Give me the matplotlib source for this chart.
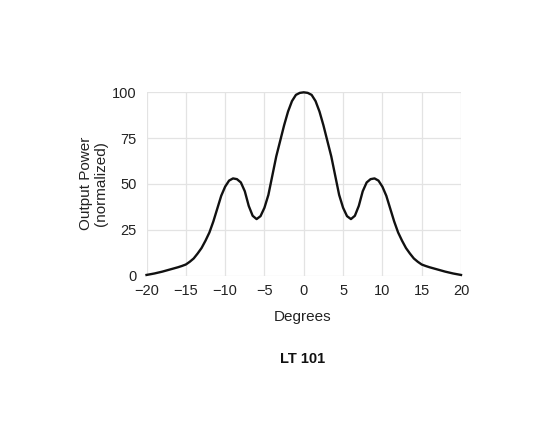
import matplotlib.pyplot as plt

plt.rcParams['font.family'] = ['Liberation Sans', 'DejaVu Sans']

# angle (degrees) and normalized output power
degrees = [-20, -19.5, -19, -18.5, -18, -17.5, -17, -16.5, -16, -15.5,
           -15, -14.5, -14, -13.5, -13, -12.5, -12, -11.5, -11, -10.5,
           -10, -9.5, -9, -8.5, -8, -7.5, -7, -6.5, -6, -5.5,
           -5, -4.5, -4, -3.5, -3, -2.5, -2, -1.5, -1, -0.5,
           0, 0.5, 1, 1.5, 2, 2.5, 3, 3.5, 4, 4.5,
           5, 5.5, 6, 6.5, 7, 7.5, 8, 8.5, 9, 9.5,
           10, 10.5, 11, 11.5, 12, 12.5, 13, 13.5, 14, 14.5,
           15, 15.5, 16, 16.5, 17, 17.5, 18, 18.5, 19, 19.5, 20]
power = [0.3, 0.7, 1.1, 1.6, 2.1, 2.7, 3.3, 3.9, 4.5, 5.2,
         6.0, 7.5, 9.3, 12.0, 15.0, 19.0, 23.5, 29.5, 36.5, 43.5,
         48.5, 51.8, 53.0, 52.6, 50.8, 46.0, 38.0, 32.6, 30.8, 32.4,
         37.0, 44.0, 54.5, 65.0, 73.5, 82.0, 89.5, 95.2, 98.6, 99.7,
         100, 99.7, 98.6, 95.2, 89.5, 82.0, 73.5, 65.0, 54.5, 44.0,
         37.0, 32.4, 30.8, 32.6, 38.0, 46.0, 50.8, 52.6, 53.0, 51.8,
         48.5, 43.5, 36.5, 29.5, 23.5, 19.0, 15.0, 12.0, 9.3, 7.5,
         6.0, 5.2, 4.5, 3.9, 3.3, 2.7, 2.1, 1.6, 1.1, 0.7, 0.3]

xticks = [-20, -15, -10, -5, 0, 5, 10, 15, 20]
yticks = [0, 25, 50, 75, 100]

fig = plt.figure(figsize=(5.5, 4.3), dpi=100)
ax = fig.add_axes([0.2664, 0.3593, 0.5718, 0.426])

ax.plot(degrees, power, color='#111111', lw=1.7, clip_on=False, zorder=3,
        solid_joinstyle='round')

ax.set_xlim(-20, 20)
ax.set_ylim(0, 100)
ax.set_xticks(xticks)
ax.set_yticks(yticks)
ax.grid(True, color='#e3e3e3', lw=0.9)
ax.set_axisbelow(True)
for s in ax.spines.values():
    s.set_visible(False)
ax.tick_params(length=0, labelsize=10.5, colors='#222222', pad=7)
ax.tick_params(axis='x', pad=6)

fig.text(0.170, 0.574, 'Output Power\n(normalized)', rotation=90,
         ha='center', va='center', fontsize=11, color='#222222',
         multialignment='center', linespacing=1.05)
fig.text(0.551, 0.263, 'Degrees', ha='center', va='center',
         fontsize=11, color='#222222')
fig.text(0.551, 0.166, 'LT 101', ha='center', va='center',
         fontsize=10.5, fontweight='bold', color='#111111')

fig.savefig('out.png', dpi=100)
